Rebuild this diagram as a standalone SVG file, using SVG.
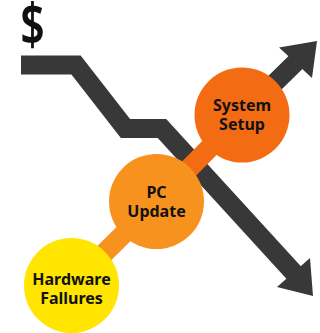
<svg xmlns="http://www.w3.org/2000/svg" width="320" height="333" viewBox="0 0 320 333">
<style>
.dark{fill:none;stroke:#383838;stroke-width:19;stroke-linejoin:miter;stroke-miterlimit:10}
.head{fill:#383838}
.lbl{font-family:"Noto Sans","Open Sans","Liberation Sans",sans-serif;font-weight:bold;font-size:16px;fill:#111;text-anchor:middle}
</style>
<rect width="320" height="333" fill="#ffffff"/>
<g id="trend">
<text transform="translate(32.5,45) scale(0.75,1)" x="0" y="0" style="font-family:'Noto Sans','Open Sans',sans-serif;font-weight:600;font-size:57px;fill:#111;text-anchor:middle">$</text>
<polyline class="dark" points="21,65 76,65 125.5,128.5 162,128.5 295,274"/>
<polygon class="head" points="313,296 310,258 277,287"/>
<line class="dark" x1="242" y1="115" x2="296" y2="62"/>
<polygon class="head" points="317,41 279,47.5 312,78"/>
</g>
<g id="connectors">
<line x1="71.5" y1="285.5" x2="156.5" y2="201.5" stroke="#F7921E" stroke-width="20"/>
<line x1="156.5" y1="201.5" x2="242" y2="115" stroke="#F36B12" stroke-width="20"/>
</g>
<g id="system-setup">
<circle cx="242" cy="115" r="47.5" fill="#F36B12"/>
<text class="lbl" x="242" y="111">System</text>
<text class="lbl" x="242" y="130">Setup</text>
</g>
<g id="pc-update">
<circle cx="156.5" cy="201.5" r="47.5" fill="#F7921E"/>
<text class="lbl" x="156.5" y="198">PC</text>
<text class="lbl" x="156.5" y="217">Update</text>
</g>
<g id="hardware-failures">
<circle cx="71.5" cy="285.5" r="47.5" fill="#FFE500"/>
<text class="lbl" x="71.5" y="284.5">Hardware</text>
<text class="lbl" x="71.5" y="303.5">Fallures</text>
</g>
</svg>
